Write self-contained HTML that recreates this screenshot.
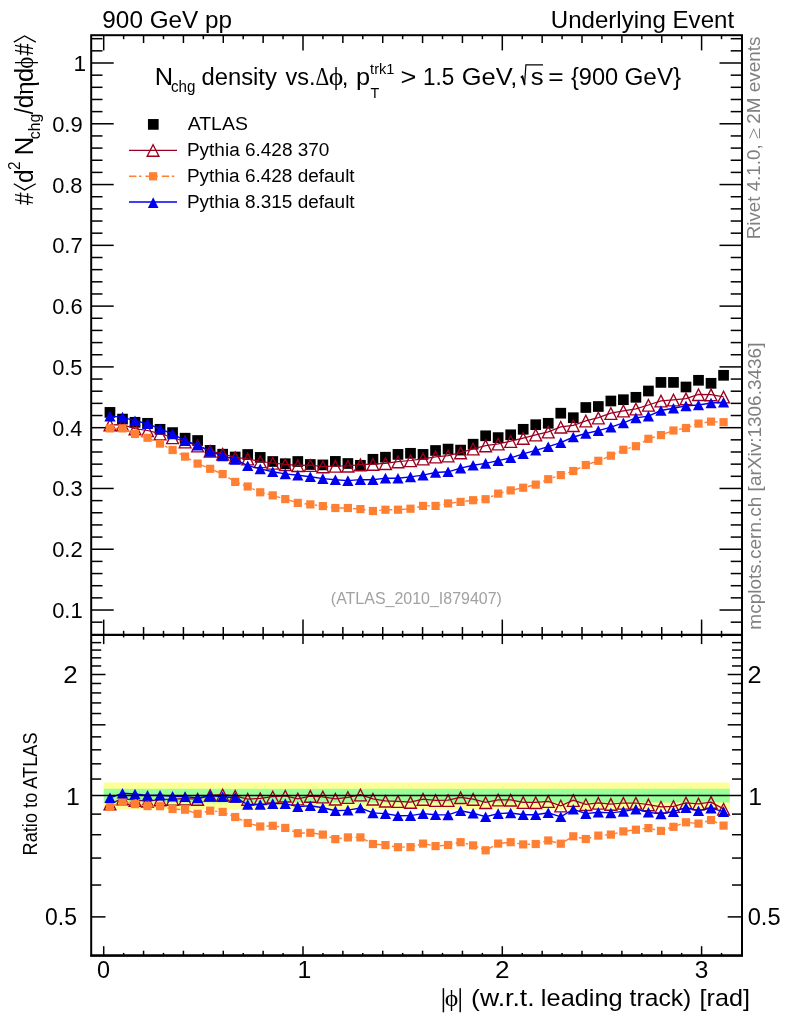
<!DOCTYPE html>
<html><head><meta charset="utf-8"><title>Underlying Event</title>
<style>html,body{margin:0;padding:0;background:#fff}svg{display:block}</style>
</head><body>
<svg width="786" height="1024" viewBox="0 0 786 1024" style="will-change:transform">
<rect width="786" height="1024" fill="#fff"/>
<line x1="103.7" y1="35.2" x2="103.7" y2="50.4" stroke="#000" stroke-width="1.5"/>
<line x1="103.7" y1="619.6" x2="103.7" y2="644.1" stroke="#000" stroke-width="1.5"/>
<line x1="103.7" y1="955.5" x2="103.7" y2="946.2" stroke="#000" stroke-width="1.5"/>
<line x1="123.63" y1="35.2" x2="123.63" y2="39.2" stroke="#000" stroke-width="1.5"/>
<line x1="123.63" y1="630.8" x2="123.63" y2="637.4" stroke="#000" stroke-width="1.5"/>
<line x1="123.63" y1="955.5" x2="123.63" y2="952.9" stroke="#000" stroke-width="1.5"/>
<line x1="143.56" y1="35.2" x2="143.56" y2="43" stroke="#000" stroke-width="1.5"/>
<line x1="143.56" y1="627" x2="143.56" y2="639.6" stroke="#000" stroke-width="1.5"/>
<line x1="143.56" y1="955.5" x2="143.56" y2="950.7" stroke="#000" stroke-width="1.5"/>
<line x1="163.49" y1="35.2" x2="163.49" y2="39.2" stroke="#000" stroke-width="1.5"/>
<line x1="163.49" y1="630.8" x2="163.49" y2="637.4" stroke="#000" stroke-width="1.5"/>
<line x1="163.49" y1="955.5" x2="163.49" y2="952.9" stroke="#000" stroke-width="1.5"/>
<line x1="183.42" y1="35.2" x2="183.42" y2="43" stroke="#000" stroke-width="1.5"/>
<line x1="183.42" y1="627" x2="183.42" y2="639.6" stroke="#000" stroke-width="1.5"/>
<line x1="183.42" y1="955.5" x2="183.42" y2="950.7" stroke="#000" stroke-width="1.5"/>
<line x1="203.35" y1="35.2" x2="203.35" y2="39.2" stroke="#000" stroke-width="1.5"/>
<line x1="203.35" y1="630.8" x2="203.35" y2="637.4" stroke="#000" stroke-width="1.5"/>
<line x1="203.35" y1="955.5" x2="203.35" y2="952.9" stroke="#000" stroke-width="1.5"/>
<line x1="223.28" y1="35.2" x2="223.28" y2="43" stroke="#000" stroke-width="1.5"/>
<line x1="223.28" y1="627" x2="223.28" y2="639.6" stroke="#000" stroke-width="1.5"/>
<line x1="223.28" y1="955.5" x2="223.28" y2="950.7" stroke="#000" stroke-width="1.5"/>
<line x1="243.21" y1="35.2" x2="243.21" y2="39.2" stroke="#000" stroke-width="1.5"/>
<line x1="243.21" y1="630.8" x2="243.21" y2="637.4" stroke="#000" stroke-width="1.5"/>
<line x1="243.21" y1="955.5" x2="243.21" y2="952.9" stroke="#000" stroke-width="1.5"/>
<line x1="263.14" y1="35.2" x2="263.14" y2="43" stroke="#000" stroke-width="1.5"/>
<line x1="263.14" y1="627" x2="263.14" y2="639.6" stroke="#000" stroke-width="1.5"/>
<line x1="263.14" y1="955.5" x2="263.14" y2="950.7" stroke="#000" stroke-width="1.5"/>
<line x1="283.07" y1="35.2" x2="283.07" y2="39.2" stroke="#000" stroke-width="1.5"/>
<line x1="283.07" y1="630.8" x2="283.07" y2="637.4" stroke="#000" stroke-width="1.5"/>
<line x1="283.07" y1="955.5" x2="283.07" y2="952.9" stroke="#000" stroke-width="1.5"/>
<line x1="303" y1="35.2" x2="303" y2="50.4" stroke="#000" stroke-width="1.5"/>
<line x1="303" y1="619.6" x2="303" y2="644.1" stroke="#000" stroke-width="1.5"/>
<line x1="303" y1="955.5" x2="303" y2="946.2" stroke="#000" stroke-width="1.5"/>
<line x1="322.93" y1="35.2" x2="322.93" y2="39.2" stroke="#000" stroke-width="1.5"/>
<line x1="322.93" y1="630.8" x2="322.93" y2="637.4" stroke="#000" stroke-width="1.5"/>
<line x1="322.93" y1="955.5" x2="322.93" y2="952.9" stroke="#000" stroke-width="1.5"/>
<line x1="342.86" y1="35.2" x2="342.86" y2="43" stroke="#000" stroke-width="1.5"/>
<line x1="342.86" y1="627" x2="342.86" y2="639.6" stroke="#000" stroke-width="1.5"/>
<line x1="342.86" y1="955.5" x2="342.86" y2="950.7" stroke="#000" stroke-width="1.5"/>
<line x1="362.79" y1="35.2" x2="362.79" y2="39.2" stroke="#000" stroke-width="1.5"/>
<line x1="362.79" y1="630.8" x2="362.79" y2="637.4" stroke="#000" stroke-width="1.5"/>
<line x1="362.79" y1="955.5" x2="362.79" y2="952.9" stroke="#000" stroke-width="1.5"/>
<line x1="382.72" y1="35.2" x2="382.72" y2="43" stroke="#000" stroke-width="1.5"/>
<line x1="382.72" y1="627" x2="382.72" y2="639.6" stroke="#000" stroke-width="1.5"/>
<line x1="382.72" y1="955.5" x2="382.72" y2="950.7" stroke="#000" stroke-width="1.5"/>
<line x1="402.65" y1="35.2" x2="402.65" y2="39.2" stroke="#000" stroke-width="1.5"/>
<line x1="402.65" y1="630.8" x2="402.65" y2="637.4" stroke="#000" stroke-width="1.5"/>
<line x1="402.65" y1="955.5" x2="402.65" y2="952.9" stroke="#000" stroke-width="1.5"/>
<line x1="422.58" y1="35.2" x2="422.58" y2="43" stroke="#000" stroke-width="1.5"/>
<line x1="422.58" y1="627" x2="422.58" y2="639.6" stroke="#000" stroke-width="1.5"/>
<line x1="422.58" y1="955.5" x2="422.58" y2="950.7" stroke="#000" stroke-width="1.5"/>
<line x1="442.51" y1="35.2" x2="442.51" y2="39.2" stroke="#000" stroke-width="1.5"/>
<line x1="442.51" y1="630.8" x2="442.51" y2="637.4" stroke="#000" stroke-width="1.5"/>
<line x1="442.51" y1="955.5" x2="442.51" y2="952.9" stroke="#000" stroke-width="1.5"/>
<line x1="462.44" y1="35.2" x2="462.44" y2="43" stroke="#000" stroke-width="1.5"/>
<line x1="462.44" y1="627" x2="462.44" y2="639.6" stroke="#000" stroke-width="1.5"/>
<line x1="462.44" y1="955.5" x2="462.44" y2="950.7" stroke="#000" stroke-width="1.5"/>
<line x1="482.37" y1="35.2" x2="482.37" y2="39.2" stroke="#000" stroke-width="1.5"/>
<line x1="482.37" y1="630.8" x2="482.37" y2="637.4" stroke="#000" stroke-width="1.5"/>
<line x1="482.37" y1="955.5" x2="482.37" y2="952.9" stroke="#000" stroke-width="1.5"/>
<line x1="502.3" y1="35.2" x2="502.3" y2="50.4" stroke="#000" stroke-width="1.5"/>
<line x1="502.3" y1="619.6" x2="502.3" y2="644.1" stroke="#000" stroke-width="1.5"/>
<line x1="502.3" y1="955.5" x2="502.3" y2="946.2" stroke="#000" stroke-width="1.5"/>
<line x1="522.23" y1="35.2" x2="522.23" y2="39.2" stroke="#000" stroke-width="1.5"/>
<line x1="522.23" y1="630.8" x2="522.23" y2="637.4" stroke="#000" stroke-width="1.5"/>
<line x1="522.23" y1="955.5" x2="522.23" y2="952.9" stroke="#000" stroke-width="1.5"/>
<line x1="542.16" y1="35.2" x2="542.16" y2="43" stroke="#000" stroke-width="1.5"/>
<line x1="542.16" y1="627" x2="542.16" y2="639.6" stroke="#000" stroke-width="1.5"/>
<line x1="542.16" y1="955.5" x2="542.16" y2="950.7" stroke="#000" stroke-width="1.5"/>
<line x1="562.09" y1="35.2" x2="562.09" y2="39.2" stroke="#000" stroke-width="1.5"/>
<line x1="562.09" y1="630.8" x2="562.09" y2="637.4" stroke="#000" stroke-width="1.5"/>
<line x1="562.09" y1="955.5" x2="562.09" y2="952.9" stroke="#000" stroke-width="1.5"/>
<line x1="582.02" y1="35.2" x2="582.02" y2="43" stroke="#000" stroke-width="1.5"/>
<line x1="582.02" y1="627" x2="582.02" y2="639.6" stroke="#000" stroke-width="1.5"/>
<line x1="582.02" y1="955.5" x2="582.02" y2="950.7" stroke="#000" stroke-width="1.5"/>
<line x1="601.95" y1="35.2" x2="601.95" y2="39.2" stroke="#000" stroke-width="1.5"/>
<line x1="601.95" y1="630.8" x2="601.95" y2="637.4" stroke="#000" stroke-width="1.5"/>
<line x1="601.95" y1="955.5" x2="601.95" y2="952.9" stroke="#000" stroke-width="1.5"/>
<line x1="621.88" y1="35.2" x2="621.88" y2="43" stroke="#000" stroke-width="1.5"/>
<line x1="621.88" y1="627" x2="621.88" y2="639.6" stroke="#000" stroke-width="1.5"/>
<line x1="621.88" y1="955.5" x2="621.88" y2="950.7" stroke="#000" stroke-width="1.5"/>
<line x1="641.81" y1="35.2" x2="641.81" y2="39.2" stroke="#000" stroke-width="1.5"/>
<line x1="641.81" y1="630.8" x2="641.81" y2="637.4" stroke="#000" stroke-width="1.5"/>
<line x1="641.81" y1="955.5" x2="641.81" y2="952.9" stroke="#000" stroke-width="1.5"/>
<line x1="661.74" y1="35.2" x2="661.74" y2="43" stroke="#000" stroke-width="1.5"/>
<line x1="661.74" y1="627" x2="661.74" y2="639.6" stroke="#000" stroke-width="1.5"/>
<line x1="661.74" y1="955.5" x2="661.74" y2="950.7" stroke="#000" stroke-width="1.5"/>
<line x1="681.67" y1="35.2" x2="681.67" y2="39.2" stroke="#000" stroke-width="1.5"/>
<line x1="681.67" y1="630.8" x2="681.67" y2="637.4" stroke="#000" stroke-width="1.5"/>
<line x1="681.67" y1="955.5" x2="681.67" y2="952.9" stroke="#000" stroke-width="1.5"/>
<line x1="701.6" y1="35.2" x2="701.6" y2="50.4" stroke="#000" stroke-width="1.5"/>
<line x1="701.6" y1="619.6" x2="701.6" y2="644.1" stroke="#000" stroke-width="1.5"/>
<line x1="701.6" y1="955.5" x2="701.6" y2="946.2" stroke="#000" stroke-width="1.5"/>
<line x1="721.53" y1="35.2" x2="721.53" y2="39.2" stroke="#000" stroke-width="1.5"/>
<line x1="721.53" y1="630.8" x2="721.53" y2="637.4" stroke="#000" stroke-width="1.5"/>
<line x1="721.53" y1="955.5" x2="721.53" y2="952.9" stroke="#000" stroke-width="1.5"/>
<line x1="91.2" y1="622.18" x2="102.5" y2="622.18" stroke="#000" stroke-width="1.5"/>
<line x1="742" y1="622.18" x2="730.7" y2="622.18" stroke="#000" stroke-width="1.5"/>
<line x1="91.2" y1="610.02" x2="113.7" y2="610.02" stroke="#000" stroke-width="1.5"/>
<line x1="742" y1="610.02" x2="719.5" y2="610.02" stroke="#000" stroke-width="1.5"/>
<line x1="91.2" y1="597.86" x2="102.5" y2="597.86" stroke="#000" stroke-width="1.5"/>
<line x1="742" y1="597.86" x2="730.7" y2="597.86" stroke="#000" stroke-width="1.5"/>
<line x1="91.2" y1="585.71" x2="102.5" y2="585.71" stroke="#000" stroke-width="1.5"/>
<line x1="742" y1="585.71" x2="730.7" y2="585.71" stroke="#000" stroke-width="1.5"/>
<line x1="91.2" y1="573.55" x2="102.5" y2="573.55" stroke="#000" stroke-width="1.5"/>
<line x1="742" y1="573.55" x2="730.7" y2="573.55" stroke="#000" stroke-width="1.5"/>
<line x1="91.2" y1="561.4" x2="102.5" y2="561.4" stroke="#000" stroke-width="1.5"/>
<line x1="742" y1="561.4" x2="730.7" y2="561.4" stroke="#000" stroke-width="1.5"/>
<line x1="91.2" y1="549.24" x2="113.7" y2="549.24" stroke="#000" stroke-width="1.5"/>
<line x1="742" y1="549.24" x2="719.5" y2="549.24" stroke="#000" stroke-width="1.5"/>
<line x1="91.2" y1="537.08" x2="102.5" y2="537.08" stroke="#000" stroke-width="1.5"/>
<line x1="742" y1="537.08" x2="730.7" y2="537.08" stroke="#000" stroke-width="1.5"/>
<line x1="91.2" y1="524.93" x2="102.5" y2="524.93" stroke="#000" stroke-width="1.5"/>
<line x1="742" y1="524.93" x2="730.7" y2="524.93" stroke="#000" stroke-width="1.5"/>
<line x1="91.2" y1="512.77" x2="102.5" y2="512.77" stroke="#000" stroke-width="1.5"/>
<line x1="742" y1="512.77" x2="730.7" y2="512.77" stroke="#000" stroke-width="1.5"/>
<line x1="91.2" y1="500.62" x2="102.5" y2="500.62" stroke="#000" stroke-width="1.5"/>
<line x1="742" y1="500.62" x2="730.7" y2="500.62" stroke="#000" stroke-width="1.5"/>
<line x1="91.2" y1="488.46" x2="113.7" y2="488.46" stroke="#000" stroke-width="1.5"/>
<line x1="742" y1="488.46" x2="719.5" y2="488.46" stroke="#000" stroke-width="1.5"/>
<line x1="91.2" y1="476.3" x2="102.5" y2="476.3" stroke="#000" stroke-width="1.5"/>
<line x1="742" y1="476.3" x2="730.7" y2="476.3" stroke="#000" stroke-width="1.5"/>
<line x1="91.2" y1="464.15" x2="102.5" y2="464.15" stroke="#000" stroke-width="1.5"/>
<line x1="742" y1="464.15" x2="730.7" y2="464.15" stroke="#000" stroke-width="1.5"/>
<line x1="91.2" y1="451.99" x2="102.5" y2="451.99" stroke="#000" stroke-width="1.5"/>
<line x1="742" y1="451.99" x2="730.7" y2="451.99" stroke="#000" stroke-width="1.5"/>
<line x1="91.2" y1="439.84" x2="102.5" y2="439.84" stroke="#000" stroke-width="1.5"/>
<line x1="742" y1="439.84" x2="730.7" y2="439.84" stroke="#000" stroke-width="1.5"/>
<line x1="91.2" y1="427.68" x2="113.7" y2="427.68" stroke="#000" stroke-width="1.5"/>
<line x1="742" y1="427.68" x2="719.5" y2="427.68" stroke="#000" stroke-width="1.5"/>
<line x1="91.2" y1="415.52" x2="102.5" y2="415.52" stroke="#000" stroke-width="1.5"/>
<line x1="742" y1="415.52" x2="730.7" y2="415.52" stroke="#000" stroke-width="1.5"/>
<line x1="91.2" y1="403.37" x2="102.5" y2="403.37" stroke="#000" stroke-width="1.5"/>
<line x1="742" y1="403.37" x2="730.7" y2="403.37" stroke="#000" stroke-width="1.5"/>
<line x1="91.2" y1="391.21" x2="102.5" y2="391.21" stroke="#000" stroke-width="1.5"/>
<line x1="742" y1="391.21" x2="730.7" y2="391.21" stroke="#000" stroke-width="1.5"/>
<line x1="91.2" y1="379.06" x2="102.5" y2="379.06" stroke="#000" stroke-width="1.5"/>
<line x1="742" y1="379.06" x2="730.7" y2="379.06" stroke="#000" stroke-width="1.5"/>
<line x1="91.2" y1="366.9" x2="113.7" y2="366.9" stroke="#000" stroke-width="1.5"/>
<line x1="742" y1="366.9" x2="719.5" y2="366.9" stroke="#000" stroke-width="1.5"/>
<line x1="91.2" y1="354.74" x2="102.5" y2="354.74" stroke="#000" stroke-width="1.5"/>
<line x1="742" y1="354.74" x2="730.7" y2="354.74" stroke="#000" stroke-width="1.5"/>
<line x1="91.2" y1="342.59" x2="102.5" y2="342.59" stroke="#000" stroke-width="1.5"/>
<line x1="742" y1="342.59" x2="730.7" y2="342.59" stroke="#000" stroke-width="1.5"/>
<line x1="91.2" y1="330.43" x2="102.5" y2="330.43" stroke="#000" stroke-width="1.5"/>
<line x1="742" y1="330.43" x2="730.7" y2="330.43" stroke="#000" stroke-width="1.5"/>
<line x1="91.2" y1="318.28" x2="102.5" y2="318.28" stroke="#000" stroke-width="1.5"/>
<line x1="742" y1="318.28" x2="730.7" y2="318.28" stroke="#000" stroke-width="1.5"/>
<line x1="91.2" y1="306.12" x2="113.7" y2="306.12" stroke="#000" stroke-width="1.5"/>
<line x1="742" y1="306.12" x2="719.5" y2="306.12" stroke="#000" stroke-width="1.5"/>
<line x1="91.2" y1="293.96" x2="102.5" y2="293.96" stroke="#000" stroke-width="1.5"/>
<line x1="742" y1="293.96" x2="730.7" y2="293.96" stroke="#000" stroke-width="1.5"/>
<line x1="91.2" y1="281.81" x2="102.5" y2="281.81" stroke="#000" stroke-width="1.5"/>
<line x1="742" y1="281.81" x2="730.7" y2="281.81" stroke="#000" stroke-width="1.5"/>
<line x1="91.2" y1="269.65" x2="102.5" y2="269.65" stroke="#000" stroke-width="1.5"/>
<line x1="742" y1="269.65" x2="730.7" y2="269.65" stroke="#000" stroke-width="1.5"/>
<line x1="91.2" y1="257.5" x2="102.5" y2="257.5" stroke="#000" stroke-width="1.5"/>
<line x1="742" y1="257.5" x2="730.7" y2="257.5" stroke="#000" stroke-width="1.5"/>
<line x1="91.2" y1="245.34" x2="113.7" y2="245.34" stroke="#000" stroke-width="1.5"/>
<line x1="742" y1="245.34" x2="719.5" y2="245.34" stroke="#000" stroke-width="1.5"/>
<line x1="91.2" y1="233.18" x2="102.5" y2="233.18" stroke="#000" stroke-width="1.5"/>
<line x1="742" y1="233.18" x2="730.7" y2="233.18" stroke="#000" stroke-width="1.5"/>
<line x1="91.2" y1="221.03" x2="102.5" y2="221.03" stroke="#000" stroke-width="1.5"/>
<line x1="742" y1="221.03" x2="730.7" y2="221.03" stroke="#000" stroke-width="1.5"/>
<line x1="91.2" y1="208.87" x2="102.5" y2="208.87" stroke="#000" stroke-width="1.5"/>
<line x1="742" y1="208.87" x2="730.7" y2="208.87" stroke="#000" stroke-width="1.5"/>
<line x1="91.2" y1="196.72" x2="102.5" y2="196.72" stroke="#000" stroke-width="1.5"/>
<line x1="742" y1="196.72" x2="730.7" y2="196.72" stroke="#000" stroke-width="1.5"/>
<line x1="91.2" y1="184.56" x2="113.7" y2="184.56" stroke="#000" stroke-width="1.5"/>
<line x1="742" y1="184.56" x2="719.5" y2="184.56" stroke="#000" stroke-width="1.5"/>
<line x1="91.2" y1="172.4" x2="102.5" y2="172.4" stroke="#000" stroke-width="1.5"/>
<line x1="742" y1="172.4" x2="730.7" y2="172.4" stroke="#000" stroke-width="1.5"/>
<line x1="91.2" y1="160.25" x2="102.5" y2="160.25" stroke="#000" stroke-width="1.5"/>
<line x1="742" y1="160.25" x2="730.7" y2="160.25" stroke="#000" stroke-width="1.5"/>
<line x1="91.2" y1="148.09" x2="102.5" y2="148.09" stroke="#000" stroke-width="1.5"/>
<line x1="742" y1="148.09" x2="730.7" y2="148.09" stroke="#000" stroke-width="1.5"/>
<line x1="91.2" y1="135.94" x2="102.5" y2="135.94" stroke="#000" stroke-width="1.5"/>
<line x1="742" y1="135.94" x2="730.7" y2="135.94" stroke="#000" stroke-width="1.5"/>
<line x1="91.2" y1="123.78" x2="113.7" y2="123.78" stroke="#000" stroke-width="1.5"/>
<line x1="742" y1="123.78" x2="719.5" y2="123.78" stroke="#000" stroke-width="1.5"/>
<line x1="91.2" y1="111.62" x2="102.5" y2="111.62" stroke="#000" stroke-width="1.5"/>
<line x1="742" y1="111.62" x2="730.7" y2="111.62" stroke="#000" stroke-width="1.5"/>
<line x1="91.2" y1="99.47" x2="102.5" y2="99.47" stroke="#000" stroke-width="1.5"/>
<line x1="742" y1="99.47" x2="730.7" y2="99.47" stroke="#000" stroke-width="1.5"/>
<line x1="91.2" y1="87.31" x2="102.5" y2="87.31" stroke="#000" stroke-width="1.5"/>
<line x1="742" y1="87.31" x2="730.7" y2="87.31" stroke="#000" stroke-width="1.5"/>
<line x1="91.2" y1="75.16" x2="102.5" y2="75.16" stroke="#000" stroke-width="1.5"/>
<line x1="742" y1="75.16" x2="730.7" y2="75.16" stroke="#000" stroke-width="1.5"/>
<line x1="91.2" y1="63" x2="113.7" y2="63" stroke="#000" stroke-width="1.5"/>
<line x1="742" y1="63" x2="719.5" y2="63" stroke="#000" stroke-width="1.5"/>
<line x1="91.2" y1="50.84" x2="102.5" y2="50.84" stroke="#000" stroke-width="1.5"/>
<line x1="742" y1="50.84" x2="730.7" y2="50.84" stroke="#000" stroke-width="1.5"/>
<line x1="91.2" y1="38.69" x2="102.5" y2="38.69" stroke="#000" stroke-width="1.5"/>
<line x1="742" y1="38.69" x2="730.7" y2="38.69" stroke="#000" stroke-width="1.5"/>
<line x1="91.2" y1="916.89" x2="105.5" y2="916.89" stroke="#000" stroke-width="1.5"/>
<line x1="742" y1="916.89" x2="727.7" y2="916.89" stroke="#000" stroke-width="1.5"/>
<line x1="91.2" y1="885.02" x2="101.2" y2="885.02" stroke="#000" stroke-width="1.5"/>
<line x1="742" y1="885.02" x2="732" y2="885.02" stroke="#000" stroke-width="1.5"/>
<line x1="91.2" y1="858.06" x2="101.2" y2="858.06" stroke="#000" stroke-width="1.5"/>
<line x1="742" y1="858.06" x2="732" y2="858.06" stroke="#000" stroke-width="1.5"/>
<line x1="91.2" y1="834.72" x2="101.2" y2="834.72" stroke="#000" stroke-width="1.5"/>
<line x1="742" y1="834.72" x2="732" y2="834.72" stroke="#000" stroke-width="1.5"/>
<line x1="91.2" y1="814.12" x2="101.2" y2="814.12" stroke="#000" stroke-width="1.5"/>
<line x1="742" y1="814.12" x2="732" y2="814.12" stroke="#000" stroke-width="1.5"/>
<line x1="91.2" y1="779.04" x2="101.2" y2="779.04" stroke="#000" stroke-width="1.5"/>
<line x1="742" y1="779.04" x2="732" y2="779.04" stroke="#000" stroke-width="1.5"/>
<line x1="91.2" y1="763.82" x2="101.2" y2="763.82" stroke="#000" stroke-width="1.5"/>
<line x1="742" y1="763.82" x2="732" y2="763.82" stroke="#000" stroke-width="1.5"/>
<line x1="91.2" y1="749.83" x2="101.2" y2="749.83" stroke="#000" stroke-width="1.5"/>
<line x1="742" y1="749.83" x2="732" y2="749.83" stroke="#000" stroke-width="1.5"/>
<line x1="91.2" y1="736.87" x2="101.2" y2="736.87" stroke="#000" stroke-width="1.5"/>
<line x1="742" y1="736.87" x2="732" y2="736.87" stroke="#000" stroke-width="1.5"/>
<line x1="91.2" y1="724.81" x2="105.5" y2="724.81" stroke="#000" stroke-width="1.5"/>
<line x1="742" y1="724.81" x2="727.7" y2="724.81" stroke="#000" stroke-width="1.5"/>
<line x1="91.2" y1="713.52" x2="101.2" y2="713.52" stroke="#000" stroke-width="1.5"/>
<line x1="742" y1="713.52" x2="732" y2="713.52" stroke="#000" stroke-width="1.5"/>
<line x1="91.2" y1="702.92" x2="101.2" y2="702.92" stroke="#000" stroke-width="1.5"/>
<line x1="742" y1="702.92" x2="732" y2="702.92" stroke="#000" stroke-width="1.5"/>
<line x1="91.2" y1="692.93" x2="101.2" y2="692.93" stroke="#000" stroke-width="1.5"/>
<line x1="742" y1="692.93" x2="732" y2="692.93" stroke="#000" stroke-width="1.5"/>
<line x1="91.2" y1="683.47" x2="101.2" y2="683.47" stroke="#000" stroke-width="1.5"/>
<line x1="742" y1="683.47" x2="732" y2="683.47" stroke="#000" stroke-width="1.5"/>
<line x1="91.2" y1="674.51" x2="105.5" y2="674.51" stroke="#000" stroke-width="1.5"/>
<line x1="742" y1="674.51" x2="727.7" y2="674.51" stroke="#000" stroke-width="1.5"/>
<line x1="91.2" y1="665.97" x2="101.2" y2="665.97" stroke="#000" stroke-width="1.5"/>
<line x1="742" y1="665.97" x2="732" y2="665.97" stroke="#000" stroke-width="1.5"/>
<line x1="91.2" y1="657.84" x2="101.2" y2="657.84" stroke="#000" stroke-width="1.5"/>
<line x1="742" y1="657.84" x2="732" y2="657.84" stroke="#000" stroke-width="1.5"/>
<line x1="91.2" y1="650.07" x2="101.2" y2="650.07" stroke="#000" stroke-width="1.5"/>
<line x1="742" y1="650.07" x2="732" y2="650.07" stroke="#000" stroke-width="1.5"/>
<line x1="91.2" y1="642.63" x2="101.2" y2="642.63" stroke="#000" stroke-width="1.5"/>
<line x1="742" y1="642.63" x2="732" y2="642.63" stroke="#000" stroke-width="1.5"/>
<rect x="103.7" y="782.5" width="626.12" height="26.8" fill="#ffff99"/>
<rect x="103.7" y="788.8" width="626.12" height="13.7" fill="#99ff99"/>
<rect x="104.61" y="407.05" width="10.7" height="10.7" fill="#000"/>
<rect x="117.13" y="413.75" width="10.7" height="10.7" fill="#000"/>
<rect x="129.66" y="416.95" width="10.7" height="10.7" fill="#000"/>
<rect x="142.18" y="417.95" width="10.7" height="10.7" fill="#000"/>
<rect x="154.7" y="423.95" width="10.7" height="10.7" fill="#000"/>
<rect x="167.22" y="427.25" width="10.7" height="10.7" fill="#000"/>
<rect x="179.75" y="432.85" width="10.7" height="10.7" fill="#000"/>
<rect x="192.27" y="435.15" width="10.7" height="10.7" fill="#000"/>
<rect x="204.79" y="445.05" width="10.7" height="10.7" fill="#000"/>
<rect x="217.31" y="448.85" width="10.7" height="10.7" fill="#000"/>
<rect x="229.84" y="451.65" width="10.7" height="10.7" fill="#000"/>
<rect x="242.36" y="449.15" width="10.7" height="10.7" fill="#000"/>
<rect x="254.88" y="452.05" width="10.7" height="10.7" fill="#000"/>
<rect x="267.4" y="456.15" width="10.7" height="10.7" fill="#000"/>
<rect x="279.92" y="458.35" width="10.7" height="10.7" fill="#000"/>
<rect x="292.45" y="456.15" width="10.7" height="10.7" fill="#000"/>
<rect x="304.97" y="459.15" width="10.7" height="10.7" fill="#000"/>
<rect x="317.49" y="459.55" width="10.7" height="10.7" fill="#000"/>
<rect x="330.01" y="456.05" width="10.7" height="10.7" fill="#000"/>
<rect x="342.54" y="458.15" width="10.7" height="10.7" fill="#000"/>
<rect x="355.06" y="459.95" width="10.7" height="10.7" fill="#000"/>
<rect x="367.58" y="453.95" width="10.7" height="10.7" fill="#000"/>
<rect x="380.1" y="451.85" width="10.7" height="10.7" fill="#000"/>
<rect x="392.63" y="449.05" width="10.7" height="10.7" fill="#000"/>
<rect x="405.15" y="447.95" width="10.7" height="10.7" fill="#000"/>
<rect x="417.67" y="449.05" width="10.7" height="10.7" fill="#000"/>
<rect x="430.19" y="445.15" width="10.7" height="10.7" fill="#000"/>
<rect x="442.72" y="443.75" width="10.7" height="10.7" fill="#000"/>
<rect x="455.24" y="444.75" width="10.7" height="10.7" fill="#000"/>
<rect x="467.76" y="438.85" width="10.7" height="10.7" fill="#000"/>
<rect x="480.28" y="430.45" width="10.7" height="10.7" fill="#000"/>
<rect x="492.81" y="432.25" width="10.7" height="10.7" fill="#000"/>
<rect x="505.33" y="429.45" width="10.7" height="10.7" fill="#000"/>
<rect x="517.85" y="423.95" width="10.7" height="10.7" fill="#000"/>
<rect x="530.37" y="419.35" width="10.7" height="10.7" fill="#000"/>
<rect x="542.89" y="417.95" width="10.7" height="10.7" fill="#000"/>
<rect x="555.42" y="407.85" width="10.7" height="10.7" fill="#000"/>
<rect x="567.94" y="412.35" width="10.7" height="10.7" fill="#000"/>
<rect x="580.46" y="402.15" width="10.7" height="10.7" fill="#000"/>
<rect x="592.98" y="401.15" width="10.7" height="10.7" fill="#000"/>
<rect x="605.51" y="395.65" width="10.7" height="10.7" fill="#000"/>
<rect x="618.03" y="394.35" width="10.7" height="10.7" fill="#000"/>
<rect x="630.55" y="391.95" width="10.7" height="10.7" fill="#000"/>
<rect x="643.07" y="385.65" width="10.7" height="10.7" fill="#000"/>
<rect x="655.6" y="377.05" width="10.7" height="10.7" fill="#000"/>
<rect x="668.12" y="377.05" width="10.7" height="10.7" fill="#000"/>
<rect x="680.64" y="381.65" width="10.7" height="10.7" fill="#000"/>
<rect x="693.16" y="374.95" width="10.7" height="10.7" fill="#000"/>
<rect x="705.69" y="377.95" width="10.7" height="10.7" fill="#000"/>
<rect x="718.21" y="369.95" width="10.7" height="10.7" fill="#000"/>
<polyline points="109.96,424.8 122.48,424.7 135.01,428.6 147.53,430.5 160.05,433.6 172.57,437.5 185.1,441.7 197.62,445.7 210.14,450.9 222.66,453.9 235.19,457.4 247.71,458.8 260.23,461.5 272.75,463 285.27,464.4 297.8,465.4 310.32,465.2 322.84,466.6 335.36,466 347.89,465.9 360.41,464.6 372.93,464.1 385.45,463.4 397.98,461.6 410.5,460.5 423.02,458.8 435.54,456.8 448.07,455.7 460.59,452.6 473.11,448.8 485.63,445.6 498.16,443.8 510.68,441.2 523.2,438.1 535.72,434.8 548.24,431.8 560.77,426.9 573.29,425.4 585.81,420.8 598.33,417.7 610.86,413.2 623.38,410.8 635.9,408.8 648.42,405 660.95,400.8 673.47,399.8 685.99,398.6 698.51,394.4 711.04,394.6 723.56,396.8" fill="none" stroke="#9c0020" stroke-width="1.25"/>
<path d="M104.06 430.9L115.86 430.9L109.96 419.3Z" fill="none" stroke="#9c0020" stroke-width="1.35" stroke-linejoin="miter"/>
<path d="M116.58 430.8L128.38 430.8L122.48 419.2Z" fill="none" stroke="#9c0020" stroke-width="1.35" stroke-linejoin="miter"/>
<path d="M129.11 434.7L140.91 434.7L135.01 423.1Z" fill="none" stroke="#9c0020" stroke-width="1.35" stroke-linejoin="miter"/>
<path d="M141.63 436.6L153.43 436.6L147.53 425Z" fill="none" stroke="#9c0020" stroke-width="1.35" stroke-linejoin="miter"/>
<path d="M154.15 439.7L165.95 439.7L160.05 428.1Z" fill="none" stroke="#9c0020" stroke-width="1.35" stroke-linejoin="miter"/>
<path d="M166.67 443.6L178.47 443.6L172.57 432Z" fill="none" stroke="#9c0020" stroke-width="1.35" stroke-linejoin="miter"/>
<path d="M179.2 447.8L191 447.8L185.1 436.2Z" fill="none" stroke="#9c0020" stroke-width="1.35" stroke-linejoin="miter"/>
<path d="M191.72 451.8L203.52 451.8L197.62 440.2Z" fill="none" stroke="#9c0020" stroke-width="1.35" stroke-linejoin="miter"/>
<path d="M204.24 457L216.04 457L210.14 445.4Z" fill="none" stroke="#9c0020" stroke-width="1.35" stroke-linejoin="miter"/>
<path d="M216.76 460L228.56 460L222.66 448.4Z" fill="none" stroke="#9c0020" stroke-width="1.35" stroke-linejoin="miter"/>
<path d="M229.29 463.5L241.09 463.5L235.19 451.9Z" fill="none" stroke="#9c0020" stroke-width="1.35" stroke-linejoin="miter"/>
<path d="M241.81 464.9L253.61 464.9L247.71 453.3Z" fill="none" stroke="#9c0020" stroke-width="1.35" stroke-linejoin="miter"/>
<path d="M254.33 467.6L266.13 467.6L260.23 456Z" fill="none" stroke="#9c0020" stroke-width="1.35" stroke-linejoin="miter"/>
<path d="M266.85 469.1L278.65 469.1L272.75 457.5Z" fill="none" stroke="#9c0020" stroke-width="1.35" stroke-linejoin="miter"/>
<path d="M279.37 470.5L291.17 470.5L285.27 458.9Z" fill="none" stroke="#9c0020" stroke-width="1.35" stroke-linejoin="miter"/>
<path d="M291.9 471.5L303.7 471.5L297.8 459.9Z" fill="none" stroke="#9c0020" stroke-width="1.35" stroke-linejoin="miter"/>
<path d="M304.42 471.3L316.22 471.3L310.32 459.7Z" fill="none" stroke="#9c0020" stroke-width="1.35" stroke-linejoin="miter"/>
<path d="M316.94 472.7L328.74 472.7L322.84 461.1Z" fill="none" stroke="#9c0020" stroke-width="1.35" stroke-linejoin="miter"/>
<path d="M329.46 472.1L341.26 472.1L335.36 460.5Z" fill="none" stroke="#9c0020" stroke-width="1.35" stroke-linejoin="miter"/>
<path d="M341.99 472L353.79 472L347.89 460.4Z" fill="none" stroke="#9c0020" stroke-width="1.35" stroke-linejoin="miter"/>
<path d="M354.51 470.7L366.31 470.7L360.41 459.1Z" fill="none" stroke="#9c0020" stroke-width="1.35" stroke-linejoin="miter"/>
<path d="M367.03 470.2L378.83 470.2L372.93 458.6Z" fill="none" stroke="#9c0020" stroke-width="1.35" stroke-linejoin="miter"/>
<path d="M379.55 469.5L391.35 469.5L385.45 457.9Z" fill="none" stroke="#9c0020" stroke-width="1.35" stroke-linejoin="miter"/>
<path d="M392.08 467.7L403.88 467.7L397.98 456.1Z" fill="none" stroke="#9c0020" stroke-width="1.35" stroke-linejoin="miter"/>
<path d="M404.6 466.6L416.4 466.6L410.5 455Z" fill="none" stroke="#9c0020" stroke-width="1.35" stroke-linejoin="miter"/>
<path d="M417.12 464.9L428.92 464.9L423.02 453.3Z" fill="none" stroke="#9c0020" stroke-width="1.35" stroke-linejoin="miter"/>
<path d="M429.64 462.9L441.44 462.9L435.54 451.3Z" fill="none" stroke="#9c0020" stroke-width="1.35" stroke-linejoin="miter"/>
<path d="M442.17 461.8L453.97 461.8L448.07 450.2Z" fill="none" stroke="#9c0020" stroke-width="1.35" stroke-linejoin="miter"/>
<path d="M454.69 458.7L466.49 458.7L460.59 447.1Z" fill="none" stroke="#9c0020" stroke-width="1.35" stroke-linejoin="miter"/>
<path d="M467.21 454.9L479.01 454.9L473.11 443.3Z" fill="none" stroke="#9c0020" stroke-width="1.35" stroke-linejoin="miter"/>
<path d="M479.73 451.7L491.53 451.7L485.63 440.1Z" fill="none" stroke="#9c0020" stroke-width="1.35" stroke-linejoin="miter"/>
<path d="M492.26 449.9L504.06 449.9L498.16 438.3Z" fill="none" stroke="#9c0020" stroke-width="1.35" stroke-linejoin="miter"/>
<path d="M504.78 447.3L516.58 447.3L510.68 435.7Z" fill="none" stroke="#9c0020" stroke-width="1.35" stroke-linejoin="miter"/>
<path d="M517.3 444.2L529.1 444.2L523.2 432.6Z" fill="none" stroke="#9c0020" stroke-width="1.35" stroke-linejoin="miter"/>
<path d="M529.82 440.9L541.62 440.9L535.72 429.3Z" fill="none" stroke="#9c0020" stroke-width="1.35" stroke-linejoin="miter"/>
<path d="M542.34 437.9L554.14 437.9L548.24 426.3Z" fill="none" stroke="#9c0020" stroke-width="1.35" stroke-linejoin="miter"/>
<path d="M554.87 433L566.67 433L560.77 421.4Z" fill="none" stroke="#9c0020" stroke-width="1.35" stroke-linejoin="miter"/>
<path d="M567.39 431.5L579.19 431.5L573.29 419.9Z" fill="none" stroke="#9c0020" stroke-width="1.35" stroke-linejoin="miter"/>
<path d="M579.91 426.9L591.71 426.9L585.81 415.3Z" fill="none" stroke="#9c0020" stroke-width="1.35" stroke-linejoin="miter"/>
<path d="M592.43 423.8L604.23 423.8L598.33 412.2Z" fill="none" stroke="#9c0020" stroke-width="1.35" stroke-linejoin="miter"/>
<path d="M604.96 419.3L616.76 419.3L610.86 407.7Z" fill="none" stroke="#9c0020" stroke-width="1.35" stroke-linejoin="miter"/>
<path d="M617.48 416.9L629.28 416.9L623.38 405.3Z" fill="none" stroke="#9c0020" stroke-width="1.35" stroke-linejoin="miter"/>
<path d="M630 414.9L641.8 414.9L635.9 403.3Z" fill="none" stroke="#9c0020" stroke-width="1.35" stroke-linejoin="miter"/>
<path d="M642.52 411.1L654.32 411.1L648.42 399.5Z" fill="none" stroke="#9c0020" stroke-width="1.35" stroke-linejoin="miter"/>
<path d="M655.05 406.9L666.85 406.9L660.95 395.3Z" fill="none" stroke="#9c0020" stroke-width="1.35" stroke-linejoin="miter"/>
<path d="M667.57 405.9L679.37 405.9L673.47 394.3Z" fill="none" stroke="#9c0020" stroke-width="1.35" stroke-linejoin="miter"/>
<path d="M680.09 404.7L691.89 404.7L685.99 393.1Z" fill="none" stroke="#9c0020" stroke-width="1.35" stroke-linejoin="miter"/>
<path d="M692.61 400.5L704.41 400.5L698.51 388.9Z" fill="none" stroke="#9c0020" stroke-width="1.35" stroke-linejoin="miter"/>
<path d="M705.14 400.7L716.94 400.7L711.04 389.1Z" fill="none" stroke="#9c0020" stroke-width="1.35" stroke-linejoin="miter"/>
<path d="M717.66 402.9L729.46 402.9L723.56 391.3Z" fill="none" stroke="#9c0020" stroke-width="1.35" stroke-linejoin="miter"/>
<polyline points="109.96,428.4 122.48,428.4 135.01,434 147.53,437.8 160.05,443.6 172.57,450 185.1,456.6 197.62,463.6 210.14,468.8 222.66,474.1 235.19,481.9 247.71,486.5 260.23,492.3 272.75,495.4 285.27,499.1 297.8,502.9 310.32,504.4 322.84,506.1 335.36,508 347.89,508 360.41,509.1 372.93,511 385.45,509.7 397.98,509.7 410.5,508.7 423.02,505.9 435.54,505.9 448.07,503.4 460.59,501.9 473.11,500.2 485.63,499.2 498.16,493.6 510.68,490.4 523.2,487.7 535.72,484.6 548.24,479.2 560.77,475.1 573.29,471 585.81,465 598.33,460.8 610.86,455.7 623.38,449.8 635.9,446.2 648.42,438.8 660.95,435.1 673.47,430.5 685.99,428 698.51,423.6 711.04,421.6 723.56,422.2" fill="none" stroke="#ff8033" stroke-width="1.4" stroke-dasharray="7.3 3 2.6 3.3"/>
<rect x="105.86" y="424.3" width="8.2" height="8.2" fill="#ff8033"/>
<rect x="118.38" y="424.3" width="8.2" height="8.2" fill="#ff8033"/>
<rect x="130.91" y="429.9" width="8.2" height="8.2" fill="#ff8033"/>
<rect x="143.43" y="433.7" width="8.2" height="8.2" fill="#ff8033"/>
<rect x="155.95" y="439.5" width="8.2" height="8.2" fill="#ff8033"/>
<rect x="168.47" y="445.9" width="8.2" height="8.2" fill="#ff8033"/>
<rect x="181" y="452.5" width="8.2" height="8.2" fill="#ff8033"/>
<rect x="193.52" y="459.5" width="8.2" height="8.2" fill="#ff8033"/>
<rect x="206.04" y="464.7" width="8.2" height="8.2" fill="#ff8033"/>
<rect x="218.56" y="470" width="8.2" height="8.2" fill="#ff8033"/>
<rect x="231.09" y="477.8" width="8.2" height="8.2" fill="#ff8033"/>
<rect x="243.61" y="482.4" width="8.2" height="8.2" fill="#ff8033"/>
<rect x="256.13" y="488.2" width="8.2" height="8.2" fill="#ff8033"/>
<rect x="268.65" y="491.3" width="8.2" height="8.2" fill="#ff8033"/>
<rect x="281.17" y="495" width="8.2" height="8.2" fill="#ff8033"/>
<rect x="293.7" y="498.8" width="8.2" height="8.2" fill="#ff8033"/>
<rect x="306.22" y="500.3" width="8.2" height="8.2" fill="#ff8033"/>
<rect x="318.74" y="502" width="8.2" height="8.2" fill="#ff8033"/>
<rect x="331.26" y="503.9" width="8.2" height="8.2" fill="#ff8033"/>
<rect x="343.79" y="503.9" width="8.2" height="8.2" fill="#ff8033"/>
<rect x="356.31" y="505" width="8.2" height="8.2" fill="#ff8033"/>
<rect x="368.83" y="506.9" width="8.2" height="8.2" fill="#ff8033"/>
<rect x="381.35" y="505.6" width="8.2" height="8.2" fill="#ff8033"/>
<rect x="393.88" y="505.6" width="8.2" height="8.2" fill="#ff8033"/>
<rect x="406.4" y="504.6" width="8.2" height="8.2" fill="#ff8033"/>
<rect x="418.92" y="501.8" width="8.2" height="8.2" fill="#ff8033"/>
<rect x="431.44" y="501.8" width="8.2" height="8.2" fill="#ff8033"/>
<rect x="443.97" y="499.3" width="8.2" height="8.2" fill="#ff8033"/>
<rect x="456.49" y="497.8" width="8.2" height="8.2" fill="#ff8033"/>
<rect x="469.01" y="496.1" width="8.2" height="8.2" fill="#ff8033"/>
<rect x="481.53" y="495.1" width="8.2" height="8.2" fill="#ff8033"/>
<rect x="494.06" y="489.5" width="8.2" height="8.2" fill="#ff8033"/>
<rect x="506.58" y="486.3" width="8.2" height="8.2" fill="#ff8033"/>
<rect x="519.1" y="483.6" width="8.2" height="8.2" fill="#ff8033"/>
<rect x="531.62" y="480.5" width="8.2" height="8.2" fill="#ff8033"/>
<rect x="544.14" y="475.1" width="8.2" height="8.2" fill="#ff8033"/>
<rect x="556.67" y="471" width="8.2" height="8.2" fill="#ff8033"/>
<rect x="569.19" y="466.9" width="8.2" height="8.2" fill="#ff8033"/>
<rect x="581.71" y="460.9" width="8.2" height="8.2" fill="#ff8033"/>
<rect x="594.23" y="456.7" width="8.2" height="8.2" fill="#ff8033"/>
<rect x="606.76" y="451.6" width="8.2" height="8.2" fill="#ff8033"/>
<rect x="619.28" y="445.7" width="8.2" height="8.2" fill="#ff8033"/>
<rect x="631.8" y="442.1" width="8.2" height="8.2" fill="#ff8033"/>
<rect x="644.32" y="434.7" width="8.2" height="8.2" fill="#ff8033"/>
<rect x="656.85" y="431" width="8.2" height="8.2" fill="#ff8033"/>
<rect x="669.37" y="426.4" width="8.2" height="8.2" fill="#ff8033"/>
<rect x="681.89" y="423.9" width="8.2" height="8.2" fill="#ff8033"/>
<rect x="694.41" y="419.5" width="8.2" height="8.2" fill="#ff8033"/>
<rect x="706.94" y="417.5" width="8.2" height="8.2" fill="#ff8033"/>
<rect x="719.46" y="418.1" width="8.2" height="8.2" fill="#ff8033"/>
<polyline points="109.96,416.1 122.48,417.1 135.01,420.8 147.53,423.6 160.05,429 172.57,433.9 185.1,440.6 197.62,445.1 210.14,451.4 222.66,455.9 235.19,459.4 247.71,465.7 260.23,468.9 272.75,471.8 285.27,473.9 297.8,475.3 310.32,476.8 322.84,478.6 335.36,479.7 347.89,480.6 360.41,479.6 372.93,479.7 385.45,478.1 397.98,478.2 410.5,476.9 423.02,475.1 435.54,472.5 448.07,471.8 460.59,468.1 473.11,465.3 485.63,463.4 498.16,460.6 510.68,457.8 523.2,453.8 535.72,450.3 548.24,446.7 560.77,442.6 573.29,437 585.81,433.5 598.33,430.6 610.86,427.1 623.38,422.9 635.9,417.9 648.42,416.1 660.95,410.5 673.47,408.2 685.99,405.9 698.51,405 711.04,403 723.56,402.2" fill="none" stroke="#0000ee" stroke-width="1.4"/>
<path d="M104.36 421.4L115.56 421.4L109.96 410.8Z" fill="#0000ee"/>
<path d="M116.88 422.4L128.08 422.4L122.48 411.8Z" fill="#0000ee"/>
<path d="M129.41 426.1L140.61 426.1L135.01 415.5Z" fill="#0000ee"/>
<path d="M141.93 428.9L153.13 428.9L147.53 418.3Z" fill="#0000ee"/>
<path d="M154.45 434.3L165.65 434.3L160.05 423.7Z" fill="#0000ee"/>
<path d="M166.97 439.2L178.17 439.2L172.57 428.6Z" fill="#0000ee"/>
<path d="M179.5 445.9L190.7 445.9L185.1 435.3Z" fill="#0000ee"/>
<path d="M192.02 450.4L203.22 450.4L197.62 439.8Z" fill="#0000ee"/>
<path d="M204.54 456.7L215.74 456.7L210.14 446.1Z" fill="#0000ee"/>
<path d="M217.06 461.2L228.26 461.2L222.66 450.6Z" fill="#0000ee"/>
<path d="M229.59 464.7L240.79 464.7L235.19 454.1Z" fill="#0000ee"/>
<path d="M242.11 471L253.31 471L247.71 460.4Z" fill="#0000ee"/>
<path d="M254.63 474.2L265.83 474.2L260.23 463.6Z" fill="#0000ee"/>
<path d="M267.15 477.1L278.35 477.1L272.75 466.5Z" fill="#0000ee"/>
<path d="M279.67 479.2L290.87 479.2L285.27 468.6Z" fill="#0000ee"/>
<path d="M292.2 480.6L303.4 480.6L297.8 470Z" fill="#0000ee"/>
<path d="M304.72 482.1L315.92 482.1L310.32 471.5Z" fill="#0000ee"/>
<path d="M317.24 483.9L328.44 483.9L322.84 473.3Z" fill="#0000ee"/>
<path d="M329.76 485L340.96 485L335.36 474.4Z" fill="#0000ee"/>
<path d="M342.29 485.9L353.49 485.9L347.89 475.3Z" fill="#0000ee"/>
<path d="M354.81 484.9L366.01 484.9L360.41 474.3Z" fill="#0000ee"/>
<path d="M367.33 485L378.53 485L372.93 474.4Z" fill="#0000ee"/>
<path d="M379.85 483.4L391.05 483.4L385.45 472.8Z" fill="#0000ee"/>
<path d="M392.38 483.5L403.58 483.5L397.98 472.9Z" fill="#0000ee"/>
<path d="M404.9 482.2L416.1 482.2L410.5 471.6Z" fill="#0000ee"/>
<path d="M417.42 480.4L428.62 480.4L423.02 469.8Z" fill="#0000ee"/>
<path d="M429.94 477.8L441.14 477.8L435.54 467.2Z" fill="#0000ee"/>
<path d="M442.47 477.1L453.67 477.1L448.07 466.5Z" fill="#0000ee"/>
<path d="M454.99 473.4L466.19 473.4L460.59 462.8Z" fill="#0000ee"/>
<path d="M467.51 470.6L478.71 470.6L473.11 460Z" fill="#0000ee"/>
<path d="M480.03 468.7L491.23 468.7L485.63 458.1Z" fill="#0000ee"/>
<path d="M492.56 465.9L503.76 465.9L498.16 455.3Z" fill="#0000ee"/>
<path d="M505.08 463.1L516.28 463.1L510.68 452.5Z" fill="#0000ee"/>
<path d="M517.6 459.1L528.8 459.1L523.2 448.5Z" fill="#0000ee"/>
<path d="M530.12 455.6L541.32 455.6L535.72 445Z" fill="#0000ee"/>
<path d="M542.64 452L553.84 452L548.24 441.4Z" fill="#0000ee"/>
<path d="M555.17 447.9L566.37 447.9L560.77 437.3Z" fill="#0000ee"/>
<path d="M567.69 442.3L578.89 442.3L573.29 431.7Z" fill="#0000ee"/>
<path d="M580.21 438.8L591.41 438.8L585.81 428.2Z" fill="#0000ee"/>
<path d="M592.73 435.9L603.93 435.9L598.33 425.3Z" fill="#0000ee"/>
<path d="M605.26 432.4L616.46 432.4L610.86 421.8Z" fill="#0000ee"/>
<path d="M617.78 428.2L628.98 428.2L623.38 417.6Z" fill="#0000ee"/>
<path d="M630.3 423.2L641.5 423.2L635.9 412.6Z" fill="#0000ee"/>
<path d="M642.82 421.4L654.02 421.4L648.42 410.8Z" fill="#0000ee"/>
<path d="M655.35 415.8L666.55 415.8L660.95 405.2Z" fill="#0000ee"/>
<path d="M667.87 413.5L679.07 413.5L673.47 402.9Z" fill="#0000ee"/>
<path d="M680.39 411.2L691.59 411.2L685.99 400.6Z" fill="#0000ee"/>
<path d="M692.91 410.3L704.11 410.3L698.51 399.7Z" fill="#0000ee"/>
<path d="M705.44 408.3L716.64 408.3L711.04 397.7Z" fill="#0000ee"/>
<path d="M717.96 407.5L729.16 407.5L723.56 396.9Z" fill="#0000ee"/>
<polyline points="109.96,803.8 122.48,798.7 135.01,800.1 147.53,801 160.05,799.6 172.57,799.1 185.1,798.7 197.62,799.1 210.14,795.3 222.66,794.7 235.19,795.9 247.71,799.1 260.23,798.4 272.75,796.7 285.27,795.9 297.8,798.8 310.32,796.1 322.84,796.8 335.36,798.9 347.89,797.3 360.41,794.7 372.93,798.9 385.45,800.9 397.98,801.3 410.5,802.1 423.02,799.1 435.54,800.3 448.07,800.2 460.59,797.4 473.11,799.1 485.63,802.4 498.16,799.8 510.68,799.9 523.2,802.3 535.72,802.4 548.24,801.3 560.77,805.8 573.29,800.2 585.81,804.4 598.33,803 610.86,804.1 623.38,803 635.9,803 648.42,804.6 660.95,806.9 673.47,806.3 685.99,802.8 698.51,803.8 711.04,802.1 723.56,808.9" fill="none" stroke="#9c0020" stroke-width="1.25"/>
<path d="M104.06 809.9L115.86 809.9L109.96 798.3Z" fill="none" stroke="#9c0020" stroke-width="1.35" stroke-linejoin="miter"/>
<path d="M116.58 804.8L128.38 804.8L122.48 793.2Z" fill="none" stroke="#9c0020" stroke-width="1.35" stroke-linejoin="miter"/>
<path d="M129.11 806.2L140.91 806.2L135.01 794.6Z" fill="none" stroke="#9c0020" stroke-width="1.35" stroke-linejoin="miter"/>
<path d="M141.63 807.1L153.43 807.1L147.53 795.5Z" fill="none" stroke="#9c0020" stroke-width="1.35" stroke-linejoin="miter"/>
<path d="M154.15 805.7L165.95 805.7L160.05 794.1Z" fill="none" stroke="#9c0020" stroke-width="1.35" stroke-linejoin="miter"/>
<path d="M166.67 805.2L178.47 805.2L172.57 793.6Z" fill="none" stroke="#9c0020" stroke-width="1.35" stroke-linejoin="miter"/>
<path d="M179.2 804.8L191 804.8L185.1 793.2Z" fill="none" stroke="#9c0020" stroke-width="1.35" stroke-linejoin="miter"/>
<path d="M191.72 805.2L203.52 805.2L197.62 793.6Z" fill="none" stroke="#9c0020" stroke-width="1.35" stroke-linejoin="miter"/>
<path d="M204.24 801.4L216.04 801.4L210.14 789.8Z" fill="none" stroke="#9c0020" stroke-width="1.35" stroke-linejoin="miter"/>
<path d="M216.76 800.8L228.56 800.8L222.66 789.2Z" fill="none" stroke="#9c0020" stroke-width="1.35" stroke-linejoin="miter"/>
<path d="M229.29 802L241.09 802L235.19 790.4Z" fill="none" stroke="#9c0020" stroke-width="1.35" stroke-linejoin="miter"/>
<path d="M241.81 805.2L253.61 805.2L247.71 793.6Z" fill="none" stroke="#9c0020" stroke-width="1.35" stroke-linejoin="miter"/>
<path d="M254.33 804.5L266.13 804.5L260.23 792.9Z" fill="none" stroke="#9c0020" stroke-width="1.35" stroke-linejoin="miter"/>
<path d="M266.85 802.8L278.65 802.8L272.75 791.2Z" fill="none" stroke="#9c0020" stroke-width="1.35" stroke-linejoin="miter"/>
<path d="M279.37 802L291.17 802L285.27 790.4Z" fill="none" stroke="#9c0020" stroke-width="1.35" stroke-linejoin="miter"/>
<path d="M291.9 804.9L303.7 804.9L297.8 793.3Z" fill="none" stroke="#9c0020" stroke-width="1.35" stroke-linejoin="miter"/>
<path d="M304.42 802.2L316.22 802.2L310.32 790.6Z" fill="none" stroke="#9c0020" stroke-width="1.35" stroke-linejoin="miter"/>
<path d="M316.94 802.9L328.74 802.9L322.84 791.3Z" fill="none" stroke="#9c0020" stroke-width="1.35" stroke-linejoin="miter"/>
<path d="M329.46 805L341.26 805L335.36 793.4Z" fill="none" stroke="#9c0020" stroke-width="1.35" stroke-linejoin="miter"/>
<path d="M341.99 803.4L353.79 803.4L347.89 791.8Z" fill="none" stroke="#9c0020" stroke-width="1.35" stroke-linejoin="miter"/>
<path d="M354.51 800.8L366.31 800.8L360.41 789.2Z" fill="none" stroke="#9c0020" stroke-width="1.35" stroke-linejoin="miter"/>
<path d="M367.03 805L378.83 805L372.93 793.4Z" fill="none" stroke="#9c0020" stroke-width="1.35" stroke-linejoin="miter"/>
<path d="M379.55 807L391.35 807L385.45 795.4Z" fill="none" stroke="#9c0020" stroke-width="1.35" stroke-linejoin="miter"/>
<path d="M392.08 807.4L403.88 807.4L397.98 795.8Z" fill="none" stroke="#9c0020" stroke-width="1.35" stroke-linejoin="miter"/>
<path d="M404.6 808.2L416.4 808.2L410.5 796.6Z" fill="none" stroke="#9c0020" stroke-width="1.35" stroke-linejoin="miter"/>
<path d="M417.12 805.2L428.92 805.2L423.02 793.6Z" fill="none" stroke="#9c0020" stroke-width="1.35" stroke-linejoin="miter"/>
<path d="M429.64 806.4L441.44 806.4L435.54 794.8Z" fill="none" stroke="#9c0020" stroke-width="1.35" stroke-linejoin="miter"/>
<path d="M442.17 806.3L453.97 806.3L448.07 794.7Z" fill="none" stroke="#9c0020" stroke-width="1.35" stroke-linejoin="miter"/>
<path d="M454.69 803.5L466.49 803.5L460.59 791.9Z" fill="none" stroke="#9c0020" stroke-width="1.35" stroke-linejoin="miter"/>
<path d="M467.21 805.2L479.01 805.2L473.11 793.6Z" fill="none" stroke="#9c0020" stroke-width="1.35" stroke-linejoin="miter"/>
<path d="M479.73 808.5L491.53 808.5L485.63 796.9Z" fill="none" stroke="#9c0020" stroke-width="1.35" stroke-linejoin="miter"/>
<path d="M492.26 805.9L504.06 805.9L498.16 794.3Z" fill="none" stroke="#9c0020" stroke-width="1.35" stroke-linejoin="miter"/>
<path d="M504.78 806L516.58 806L510.68 794.4Z" fill="none" stroke="#9c0020" stroke-width="1.35" stroke-linejoin="miter"/>
<path d="M517.3 808.4L529.1 808.4L523.2 796.8Z" fill="none" stroke="#9c0020" stroke-width="1.35" stroke-linejoin="miter"/>
<path d="M529.82 808.5L541.62 808.5L535.72 796.9Z" fill="none" stroke="#9c0020" stroke-width="1.35" stroke-linejoin="miter"/>
<path d="M542.34 807.4L554.14 807.4L548.24 795.8Z" fill="none" stroke="#9c0020" stroke-width="1.35" stroke-linejoin="miter"/>
<path d="M554.87 811.9L566.67 811.9L560.77 800.3Z" fill="none" stroke="#9c0020" stroke-width="1.35" stroke-linejoin="miter"/>
<path d="M567.39 806.3L579.19 806.3L573.29 794.7Z" fill="none" stroke="#9c0020" stroke-width="1.35" stroke-linejoin="miter"/>
<path d="M579.91 810.5L591.71 810.5L585.81 798.9Z" fill="none" stroke="#9c0020" stroke-width="1.35" stroke-linejoin="miter"/>
<path d="M592.43 809.1L604.23 809.1L598.33 797.5Z" fill="none" stroke="#9c0020" stroke-width="1.35" stroke-linejoin="miter"/>
<path d="M604.96 810.2L616.76 810.2L610.86 798.6Z" fill="none" stroke="#9c0020" stroke-width="1.35" stroke-linejoin="miter"/>
<path d="M617.48 809.1L629.28 809.1L623.38 797.5Z" fill="none" stroke="#9c0020" stroke-width="1.35" stroke-linejoin="miter"/>
<path d="M630 809.1L641.8 809.1L635.9 797.5Z" fill="none" stroke="#9c0020" stroke-width="1.35" stroke-linejoin="miter"/>
<path d="M642.52 810.7L654.32 810.7L648.42 799.1Z" fill="none" stroke="#9c0020" stroke-width="1.35" stroke-linejoin="miter"/>
<path d="M655.05 813L666.85 813L660.95 801.4Z" fill="none" stroke="#9c0020" stroke-width="1.35" stroke-linejoin="miter"/>
<path d="M667.57 812.4L679.37 812.4L673.47 800.8Z" fill="none" stroke="#9c0020" stroke-width="1.35" stroke-linejoin="miter"/>
<path d="M680.09 808.9L691.89 808.9L685.99 797.3Z" fill="none" stroke="#9c0020" stroke-width="1.35" stroke-linejoin="miter"/>
<path d="M692.61 809.9L704.41 809.9L698.51 798.3Z" fill="none" stroke="#9c0020" stroke-width="1.35" stroke-linejoin="miter"/>
<path d="M705.14 808.2L716.94 808.2L711.04 796.6Z" fill="none" stroke="#9c0020" stroke-width="1.35" stroke-linejoin="miter"/>
<path d="M717.66 815L729.46 815L723.56 803.4Z" fill="none" stroke="#9c0020" stroke-width="1.35" stroke-linejoin="miter"/>
<polyline points="109.96,806.8 122.48,801.9 135.01,804.1 147.53,806.1 160.05,806.2 172.57,809 185.1,809.7 197.62,813.8 210.14,810.7 222.66,811.9 235.19,817 247.71,823 260.23,826.5 272.75,825.8 285.27,827.9 297.8,833.2 310.32,832.8 322.84,834.6 335.36,839.1 347.89,837.4 360.41,837.4 372.93,844 385.45,845.1 397.98,847.2 410.5,847.1 423.02,843.6 435.54,846.1 448.07,845 460.59,842.2 473.11,845.4 485.63,850.3 498.16,843.6 510.68,842.2 523.2,844.4 535.72,844 548.24,840.5 560.77,843.7 573.29,836.3 585.81,839 598.33,835.6 610.86,834.6 623.38,831.4 635.9,829.7 648.42,828.1 660.95,830.9 673.47,826.8 685.99,822.3 698.51,823.6 711.04,820 723.56,825.6" fill="none" stroke="#ff8033" stroke-width="1.4" stroke-dasharray="7.3 3 2.6 3.3"/>
<rect x="105.86" y="802.7" width="8.2" height="8.2" fill="#ff8033"/>
<rect x="118.38" y="797.8" width="8.2" height="8.2" fill="#ff8033"/>
<rect x="130.91" y="800" width="8.2" height="8.2" fill="#ff8033"/>
<rect x="143.43" y="802" width="8.2" height="8.2" fill="#ff8033"/>
<rect x="155.95" y="802.1" width="8.2" height="8.2" fill="#ff8033"/>
<rect x="168.47" y="804.9" width="8.2" height="8.2" fill="#ff8033"/>
<rect x="181" y="805.6" width="8.2" height="8.2" fill="#ff8033"/>
<rect x="193.52" y="809.7" width="8.2" height="8.2" fill="#ff8033"/>
<rect x="206.04" y="806.6" width="8.2" height="8.2" fill="#ff8033"/>
<rect x="218.56" y="807.8" width="8.2" height="8.2" fill="#ff8033"/>
<rect x="231.09" y="812.9" width="8.2" height="8.2" fill="#ff8033"/>
<rect x="243.61" y="818.9" width="8.2" height="8.2" fill="#ff8033"/>
<rect x="256.13" y="822.4" width="8.2" height="8.2" fill="#ff8033"/>
<rect x="268.65" y="821.7" width="8.2" height="8.2" fill="#ff8033"/>
<rect x="281.17" y="823.8" width="8.2" height="8.2" fill="#ff8033"/>
<rect x="293.7" y="829.1" width="8.2" height="8.2" fill="#ff8033"/>
<rect x="306.22" y="828.7" width="8.2" height="8.2" fill="#ff8033"/>
<rect x="318.74" y="830.5" width="8.2" height="8.2" fill="#ff8033"/>
<rect x="331.26" y="835" width="8.2" height="8.2" fill="#ff8033"/>
<rect x="343.79" y="833.3" width="8.2" height="8.2" fill="#ff8033"/>
<rect x="356.31" y="833.3" width="8.2" height="8.2" fill="#ff8033"/>
<rect x="368.83" y="839.9" width="8.2" height="8.2" fill="#ff8033"/>
<rect x="381.35" y="841" width="8.2" height="8.2" fill="#ff8033"/>
<rect x="393.88" y="843.1" width="8.2" height="8.2" fill="#ff8033"/>
<rect x="406.4" y="843" width="8.2" height="8.2" fill="#ff8033"/>
<rect x="418.92" y="839.5" width="8.2" height="8.2" fill="#ff8033"/>
<rect x="431.44" y="842" width="8.2" height="8.2" fill="#ff8033"/>
<rect x="443.97" y="840.9" width="8.2" height="8.2" fill="#ff8033"/>
<rect x="456.49" y="838.1" width="8.2" height="8.2" fill="#ff8033"/>
<rect x="469.01" y="841.3" width="8.2" height="8.2" fill="#ff8033"/>
<rect x="481.53" y="846.2" width="8.2" height="8.2" fill="#ff8033"/>
<rect x="494.06" y="839.5" width="8.2" height="8.2" fill="#ff8033"/>
<rect x="506.58" y="838.1" width="8.2" height="8.2" fill="#ff8033"/>
<rect x="519.1" y="840.3" width="8.2" height="8.2" fill="#ff8033"/>
<rect x="531.62" y="839.9" width="8.2" height="8.2" fill="#ff8033"/>
<rect x="544.14" y="836.4" width="8.2" height="8.2" fill="#ff8033"/>
<rect x="556.67" y="839.6" width="8.2" height="8.2" fill="#ff8033"/>
<rect x="569.19" y="832.2" width="8.2" height="8.2" fill="#ff8033"/>
<rect x="581.71" y="834.9" width="8.2" height="8.2" fill="#ff8033"/>
<rect x="594.23" y="831.5" width="8.2" height="8.2" fill="#ff8033"/>
<rect x="606.76" y="830.5" width="8.2" height="8.2" fill="#ff8033"/>
<rect x="619.28" y="827.3" width="8.2" height="8.2" fill="#ff8033"/>
<rect x="631.8" y="825.6" width="8.2" height="8.2" fill="#ff8033"/>
<rect x="644.32" y="824" width="8.2" height="8.2" fill="#ff8033"/>
<rect x="656.85" y="826.8" width="8.2" height="8.2" fill="#ff8033"/>
<rect x="669.37" y="822.7" width="8.2" height="8.2" fill="#ff8033"/>
<rect x="681.89" y="818.2" width="8.2" height="8.2" fill="#ff8033"/>
<rect x="694.41" y="819.5" width="8.2" height="8.2" fill="#ff8033"/>
<rect x="706.94" y="815.9" width="8.2" height="8.2" fill="#ff8033"/>
<rect x="719.46" y="821.5" width="8.2" height="8.2" fill="#ff8033"/>
<polyline points="109.96,797.8 122.48,793.2 135.01,794 147.53,795.4 160.05,795.3 172.57,796.3 185.1,796.6 197.62,798 210.14,795.6 222.66,796.7 235.19,797.5 247.71,804.5 260.23,804.5 272.75,803.6 285.27,803.6 297.8,806.6 310.32,805.8 322.84,807.7 335.36,810.7 347.89,810.1 360.41,808 372.93,812.9 385.45,813.6 397.98,815.7 410.5,815.6 423.02,813.6 435.54,814.7 448.07,814.9 460.59,810.7 473.11,813.2 485.63,816.7 498.16,813.6 510.68,813 523.2,814.7 535.72,814.7 548.24,812.8 560.77,816.8 573.29,809.3 585.81,813.6 598.33,812.2 610.86,812.9 623.38,811.4 635.9,809.1 648.42,812.2 660.95,813.9 673.47,811.6 685.99,807.6 698.51,810.7 711.04,808.1 723.56,811.6" fill="none" stroke="#0000ee" stroke-width="1.4"/>
<path d="M104.36 803.1L115.56 803.1L109.96 792.5Z" fill="#0000ee"/>
<path d="M116.88 798.5L128.08 798.5L122.48 787.9Z" fill="#0000ee"/>
<path d="M129.41 799.3L140.61 799.3L135.01 788.7Z" fill="#0000ee"/>
<path d="M141.93 800.7L153.13 800.7L147.53 790.1Z" fill="#0000ee"/>
<path d="M154.45 800.6L165.65 800.6L160.05 790Z" fill="#0000ee"/>
<path d="M166.97 801.6L178.17 801.6L172.57 791Z" fill="#0000ee"/>
<path d="M179.5 801.9L190.7 801.9L185.1 791.3Z" fill="#0000ee"/>
<path d="M192.02 803.3L203.22 803.3L197.62 792.7Z" fill="#0000ee"/>
<path d="M204.54 800.9L215.74 800.9L210.14 790.3Z" fill="#0000ee"/>
<path d="M217.06 802L228.26 802L222.66 791.4Z" fill="#0000ee"/>
<path d="M229.59 802.8L240.79 802.8L235.19 792.2Z" fill="#0000ee"/>
<path d="M242.11 809.8L253.31 809.8L247.71 799.2Z" fill="#0000ee"/>
<path d="M254.63 809.8L265.83 809.8L260.23 799.2Z" fill="#0000ee"/>
<path d="M267.15 808.9L278.35 808.9L272.75 798.3Z" fill="#0000ee"/>
<path d="M279.67 808.9L290.87 808.9L285.27 798.3Z" fill="#0000ee"/>
<path d="M292.2 811.9L303.4 811.9L297.8 801.3Z" fill="#0000ee"/>
<path d="M304.72 811.1L315.92 811.1L310.32 800.5Z" fill="#0000ee"/>
<path d="M317.24 813L328.44 813L322.84 802.4Z" fill="#0000ee"/>
<path d="M329.76 816L340.96 816L335.36 805.4Z" fill="#0000ee"/>
<path d="M342.29 815.4L353.49 815.4L347.89 804.8Z" fill="#0000ee"/>
<path d="M354.81 813.3L366.01 813.3L360.41 802.7Z" fill="#0000ee"/>
<path d="M367.33 818.2L378.53 818.2L372.93 807.6Z" fill="#0000ee"/>
<path d="M379.85 818.9L391.05 818.9L385.45 808.3Z" fill="#0000ee"/>
<path d="M392.38 821L403.58 821L397.98 810.4Z" fill="#0000ee"/>
<path d="M404.9 820.9L416.1 820.9L410.5 810.3Z" fill="#0000ee"/>
<path d="M417.42 818.9L428.62 818.9L423.02 808.3Z" fill="#0000ee"/>
<path d="M429.94 820L441.14 820L435.54 809.4Z" fill="#0000ee"/>
<path d="M442.47 820.2L453.67 820.2L448.07 809.6Z" fill="#0000ee"/>
<path d="M454.99 816L466.19 816L460.59 805.4Z" fill="#0000ee"/>
<path d="M467.51 818.5L478.71 818.5L473.11 807.9Z" fill="#0000ee"/>
<path d="M480.03 822L491.23 822L485.63 811.4Z" fill="#0000ee"/>
<path d="M492.56 818.9L503.76 818.9L498.16 808.3Z" fill="#0000ee"/>
<path d="M505.08 818.3L516.28 818.3L510.68 807.7Z" fill="#0000ee"/>
<path d="M517.6 820L528.8 820L523.2 809.4Z" fill="#0000ee"/>
<path d="M530.12 820L541.32 820L535.72 809.4Z" fill="#0000ee"/>
<path d="M542.64 818.1L553.84 818.1L548.24 807.5Z" fill="#0000ee"/>
<path d="M555.17 822.1L566.37 822.1L560.77 811.5Z" fill="#0000ee"/>
<path d="M567.69 814.6L578.89 814.6L573.29 804Z" fill="#0000ee"/>
<path d="M580.21 818.9L591.41 818.9L585.81 808.3Z" fill="#0000ee"/>
<path d="M592.73 817.5L603.93 817.5L598.33 806.9Z" fill="#0000ee"/>
<path d="M605.26 818.2L616.46 818.2L610.86 807.6Z" fill="#0000ee"/>
<path d="M617.78 816.7L628.98 816.7L623.38 806.1Z" fill="#0000ee"/>
<path d="M630.3 814.4L641.5 814.4L635.9 803.8Z" fill="#0000ee"/>
<path d="M642.82 817.5L654.02 817.5L648.42 806.9Z" fill="#0000ee"/>
<path d="M655.35 819.2L666.55 819.2L660.95 808.6Z" fill="#0000ee"/>
<path d="M667.87 816.9L679.07 816.9L673.47 806.3Z" fill="#0000ee"/>
<path d="M680.39 812.9L691.59 812.9L685.99 802.3Z" fill="#0000ee"/>
<path d="M692.91 816L704.11 816L698.51 805.4Z" fill="#0000ee"/>
<path d="M705.44 813.4L716.64 813.4L711.04 802.8Z" fill="#0000ee"/>
<path d="M717.96 816.9L729.16 816.9L723.56 806.3Z" fill="#0000ee"/>
<line x1="91.2" y1="795.6" x2="742" y2="795.6" stroke="#000" stroke-width="1.5"/>
<rect x="91.2" y="35.2" width="650.8" height="920.3" fill="none" stroke="#000" stroke-width="2.0"/>
<line x1="91.2" y1="634.8" x2="742" y2="634.8" stroke="#000" stroke-width="2.2"/>
<line x1="90.2" y1="955.6" x2="743" y2="955.6" stroke="#000" stroke-width="2.4"/>
<text x="52.14" y="618.02" font-family="'Liberation Sans', sans-serif" font-size="22.6" text-anchor="start" fill="#000" textLength="30.53" lengthAdjust="spacingAndGlyphs">0.1</text>
<text x="52.14" y="557.24" font-family="'Liberation Sans', sans-serif" font-size="22.6" text-anchor="start" fill="#000" textLength="30.56" lengthAdjust="spacingAndGlyphs">0.2</text>
<text x="52.15" y="496.46" font-family="'Liberation Sans', sans-serif" font-size="22.6" text-anchor="start" fill="#000" textLength="30.42" lengthAdjust="spacingAndGlyphs">0.3</text>
<text x="52.15" y="435.68" font-family="'Liberation Sans', sans-serif" font-size="22.6" text-anchor="start" fill="#000" textLength="30.08" lengthAdjust="spacingAndGlyphs">0.4</text>
<text x="52.15" y="374.9" font-family="'Liberation Sans', sans-serif" font-size="22.6" text-anchor="start" fill="#000" textLength="30.37" lengthAdjust="spacingAndGlyphs">0.5</text>
<text x="52.15" y="314.12" font-family="'Liberation Sans', sans-serif" font-size="22.6" text-anchor="start" fill="#000" textLength="30.42" lengthAdjust="spacingAndGlyphs">0.6</text>
<text x="52.14" y="253.34" font-family="'Liberation Sans', sans-serif" font-size="22.6" text-anchor="start" fill="#000" textLength="30.56" lengthAdjust="spacingAndGlyphs">0.7</text>
<text x="52.15" y="192.56" font-family="'Liberation Sans', sans-serif" font-size="22.6" text-anchor="start" fill="#000" textLength="30.4" lengthAdjust="spacingAndGlyphs">0.8</text>
<text x="52.14" y="131.78" font-family="'Liberation Sans', sans-serif" font-size="22.6" text-anchor="start" fill="#000" textLength="30.5" lengthAdjust="spacingAndGlyphs">0.9</text>
<text x="73.6" y="71" font-family="'Liberation Sans', sans-serif" font-size="22.6" text-anchor="start" fill="#000">1</text>
<text x="63.3" y="683.21" font-family="'Liberation Sans', sans-serif" font-size="24.8" text-anchor="start" fill="#000" textLength="14.41" lengthAdjust="spacingAndGlyphs">2</text>
<text x="66.04" y="804.5" font-family="'Liberation Sans', sans-serif" font-size="24.8" text-anchor="start" fill="#000">1</text>
<text x="45.1" y="925.29" font-family="'Liberation Sans', sans-serif" font-size="24.8" text-anchor="start" fill="#000" textLength="31.86" lengthAdjust="spacingAndGlyphs">0.5</text>
<text x="747.43" y="683.21" font-family="'Liberation Sans', sans-serif" font-size="24.8" text-anchor="start" fill="#000" textLength="14.04" lengthAdjust="spacingAndGlyphs">2</text>
<text x="748.24" y="804.5" font-family="'Liberation Sans', sans-serif" font-size="24.8" text-anchor="start" fill="#000">1</text>
<text x="747.67" y="925.29" font-family="'Liberation Sans', sans-serif" font-size="24.8" text-anchor="start" fill="#000" textLength="32.92" lengthAdjust="spacingAndGlyphs">0.5</text>
<text x="96.88" y="978.2" font-family="'Liberation Sans', sans-serif" font-size="24.8" text-anchor="start" fill="#000" textLength="13.03" lengthAdjust="spacingAndGlyphs">0</text>
<text x="297.44" y="978.2" font-family="'Liberation Sans', sans-serif" font-size="24.8" text-anchor="start" fill="#000">1</text>
<text x="495.09" y="978.2" font-family="'Liberation Sans', sans-serif" font-size="24.8" text-anchor="start" fill="#000" textLength="14.53" lengthAdjust="spacingAndGlyphs">2</text>
<text x="694.87" y="978.2" font-family="'Liberation Sans', sans-serif" font-size="24.8" text-anchor="start" fill="#000" textLength="13.61" lengthAdjust="spacingAndGlyphs">3</text>
<text x="102.36" y="28.3" font-family="'Liberation Sans', sans-serif" font-size="23.8" text-anchor="start" fill="#000" textLength="129.66" lengthAdjust="spacingAndGlyphs">900 GeV pp</text>
<text x="550.74" y="28.4" font-family="'Liberation Sans', sans-serif" font-size="23.8" text-anchor="start" fill="#000" textLength="183.43" lengthAdjust="spacingAndGlyphs">Underlying Event</text>
<text x="154.71" y="84.7" font-family="'Liberation Sans', sans-serif" font-size="24.2" text-anchor="start" fill="#000" textLength="18.36" lengthAdjust="spacingAndGlyphs">N</text>
<text x="171.06" y="91.5" font-family="'Liberation Sans', sans-serif" font-size="15.8" text-anchor="start" fill="#000" textLength="24.42" lengthAdjust="spacingAndGlyphs">chg</text>
<text x="201.5" y="84.7" font-family="'Liberation Sans', sans-serif" font-size="24.2" text-anchor="start" fill="#000" textLength="75.35" lengthAdjust="spacingAndGlyphs">density</text>
<text x="285.52" y="84.7" font-family="'Liberation Sans', sans-serif" font-size="24.2" text-anchor="start" fill="#000" textLength="30.03" lengthAdjust="spacingAndGlyphs">vs.</text>
<text x="315.59" y="84.7" font-family="'Liberation Serif', sans-serif" font-size="24.2" text-anchor="start" fill="#000" textLength="13.71" lengthAdjust="spacingAndGlyphs">&#916;</text>
<text x="328.67" y="84.7" font-family="'Liberation Serif', sans-serif" font-size="24.2" text-anchor="start" fill="#000" textLength="14.6" lengthAdjust="spacingAndGlyphs">&#981;</text>
<text x="341.63" y="84.7" font-family="'Liberation Sans', sans-serif" font-size="24.2" text-anchor="start" fill="#000">,</text>
<text x="355.97" y="84.7" font-family="'Liberation Sans', sans-serif" font-size="24.2" text-anchor="start" fill="#000" textLength="14.1" lengthAdjust="spacingAndGlyphs">p</text>
<text x="370.08" y="73.5" font-family="'Liberation Sans', sans-serif" font-size="14.8" text-anchor="start" fill="#000" textLength="24.33" lengthAdjust="spacingAndGlyphs">trk1</text>
<text x="370.48" y="97.6" font-family="'Liberation Sans', sans-serif" font-size="14.8" text-anchor="start" fill="#000" textLength="8.75" lengthAdjust="spacingAndGlyphs">T</text>
<text x="400.46" y="84.7" font-family="'Liberation Sans', sans-serif" font-size="24.2" text-anchor="start" fill="#000" textLength="15.87" lengthAdjust="spacingAndGlyphs">&gt;</text>
<text x="423.09" y="84.7" font-family="'Liberation Sans', sans-serif" font-size="24.2" text-anchor="start" fill="#000" textLength="31.26" lengthAdjust="spacingAndGlyphs">1.5</text>
<text x="461.77" y="84.7" font-family="'Liberation Sans', sans-serif" font-size="24.2" text-anchor="start" fill="#000" textLength="55.62" lengthAdjust="spacingAndGlyphs">GeV,</text>
<path d="M520.9 77.6L522.4 76.6L524.6 84.6" fill="none" stroke="#000" stroke-width="2" stroke-linejoin="miter"/>
<path d="M524.5 85.2L525.9 64.8L543.0 64.8" fill="none" stroke="#000" stroke-width="1.2" stroke-linejoin="miter"/>
<text x="530.69" y="84.7" font-family="'Liberation Sans', sans-serif" font-size="24.2" text-anchor="start" fill="#000" textLength="12.84" lengthAdjust="spacingAndGlyphs">s</text>
<text x="548.31" y="84.7" font-family="'Liberation Sans', sans-serif" font-size="24.2" text-anchor="start" fill="#000" textLength="15.39" lengthAdjust="spacingAndGlyphs">=</text>
<text x="570.91" y="84.7" font-family="'Liberation Sans', sans-serif" font-size="24.2" text-anchor="start" fill="#000" textLength="47.21" lengthAdjust="spacingAndGlyphs">{900</text>
<text x="624.48" y="84.7" font-family="'Liberation Sans', sans-serif" font-size="24.2" text-anchor="start" fill="#000" textLength="56.76" lengthAdjust="spacingAndGlyphs">GeV}</text>
<rect x="147.95" y="119.05" width="10.7" height="10.7" fill="#000"/>
<line x1="129" y1="150.4" x2="177" y2="150.4" stroke="#9c0020" stroke-width="1.25"/>
<path d="M147.15 156.25L158.95 156.25L153.05 144.65Z" fill="none" stroke="#9c0020" stroke-width="1.35" stroke-linejoin="miter"/>
<line x1="129" y1="176.3" x2="177" y2="176.3" stroke="#ff8033" stroke-width="1.4" stroke-dasharray="7.4 2.6 2.4 4"/>
<rect x="149" y="172.2" width="8.2" height="8.2" fill="#ff8033"/>
<line x1="129" y1="202" x2="177" y2="202" stroke="#0000ee" stroke-width="1.4"/>
<path d="M147.9 207.9L158.5 207.9L153.2 197.3Z" fill="#0000ee"/>
<text x="187.66" y="129.9" font-family="'Liberation Sans', sans-serif" font-size="18" text-anchor="start" fill="#000" textLength="60.21" lengthAdjust="spacingAndGlyphs">ATLAS</text>
<text x="186.94" y="155.8" font-family="'Liberation Sans', sans-serif" font-size="18" text-anchor="start" fill="#000" textLength="142.5" lengthAdjust="spacingAndGlyphs">Pythia 6.428 370</text>
<text x="186.94" y="182.1" font-family="'Liberation Sans', sans-serif" font-size="18" text-anchor="start" fill="#000" textLength="167.7" lengthAdjust="spacingAndGlyphs">Pythia 6.428 default</text>
<text x="186.94" y="208.2" font-family="'Liberation Sans', sans-serif" font-size="18" text-anchor="start" fill="#000" textLength="167.7" lengthAdjust="spacingAndGlyphs">Pythia 8.315 default</text>
<text x="330.82" y="603.8" font-family="'Liberation Sans', sans-serif" font-size="16.2" text-anchor="start" fill="#a2a2a2" textLength="171.07" lengthAdjust="spacingAndGlyphs">(ATLAS_2010_I879407)</text>
<line x1="443.4" y1="988.2" x2="443.4" y2="1012.3" stroke="#000" stroke-width="1.5"/>
<line x1="460.2" y1="988.2" x2="460.2" y2="1012.3" stroke="#000" stroke-width="1.5"/>
<text x="444.73" y="1006.3" font-family="'Liberation Serif', sans-serif" font-size="23.6" text-anchor="start" fill="#000" textLength="13.56" lengthAdjust="spacingAndGlyphs">&#981;</text>
<text x="471.12" y="1006.3" font-family="'Liberation Sans', sans-serif" font-size="23.6" text-anchor="start" fill="#000" textLength="63.49" lengthAdjust="spacingAndGlyphs">(w.r.t.</text>
<text x="540.89" y="1006.3" font-family="'Liberation Sans', sans-serif" font-size="23.6" text-anchor="start" fill="#000" textLength="81.85" lengthAdjust="spacingAndGlyphs">leading</text>
<text x="629.63" y="1006.3" font-family="'Liberation Sans', sans-serif" font-size="23.6" text-anchor="start" fill="#000" textLength="61.6" lengthAdjust="spacingAndGlyphs">track)</text>
<text x="699.5" y="1006.3" font-family="'Liberation Sans', sans-serif" font-size="23.6" text-anchor="start" fill="#000" textLength="50.39" lengthAdjust="spacingAndGlyphs">[rad]</text>
<g transform="translate(760.2,237.7) rotate(-90)">
<text x="-1.54" y="0" font-family="'Liberation Sans', sans-serif" font-size="19" text-anchor="start" fill="#808080" textLength="94.82" lengthAdjust="spacingAndGlyphs">Rivet 4.1.0,</text>
<text x="98.35" y="0" font-family="'Liberation Serif', sans-serif" font-size="19" text-anchor="start" fill="#808080" textLength="11.42" lengthAdjust="spacingAndGlyphs">&#8805;</text>
<text x="113.85" y="0" font-family="'Liberation Sans', sans-serif" font-size="19" text-anchor="start" fill="#808080" textLength="87.23" lengthAdjust="spacingAndGlyphs">2M events</text>
</g>
<g transform="translate(761.3,628.4) rotate(-90)">
<text x="-1.26" y="0" font-family="'Liberation Sans', sans-serif" font-size="19" text-anchor="start" fill="#808080" textLength="287.11" lengthAdjust="spacingAndGlyphs">mcplots.cern.ch [arXiv:1306.3436]</text>
</g>
<g transform="translate(36.6,854.0) rotate(-90)">
<text x="-1.46" y="0" font-family="'Liberation Sans', sans-serif" font-size="19.4" text-anchor="start" fill="#000" textLength="123.08" lengthAdjust="spacingAndGlyphs">Ratio to ATLAS</text>
</g>
<g transform="translate(32.6,204.8) rotate(-90)">
<text x="-0.1" y="0" font-family="'Liberation Sans', sans-serif" font-size="25.5" text-anchor="start" fill="#000" textLength="12.51" lengthAdjust="spacingAndGlyphs">#</text>
<path d="M21.1 -18.8L14.9 -8.1L21.1 3.2" fill="none" stroke="#000" stroke-width="1.3"/>
<text x="21.77" y="0" font-family="'Liberation Sans', sans-serif" font-size="25.5" text-anchor="start" fill="#000" textLength="13.6" lengthAdjust="spacingAndGlyphs">d</text>
<text x="34.83" y="-12.5" font-family="'Liberation Sans', sans-serif" font-size="16.2" text-anchor="start" fill="#000" textLength="8.55" lengthAdjust="spacingAndGlyphs">2</text>
<text x="49.27" y="0" font-family="'Liberation Sans', sans-serif" font-size="25.5" text-anchor="start" fill="#000" textLength="18.75" lengthAdjust="spacingAndGlyphs">N</text>
<text x="65.63" y="7.1" font-family="'Liberation Sans', sans-serif" font-size="16.8" text-anchor="start" fill="#000" textLength="25.38" lengthAdjust="spacingAndGlyphs">chg</text>
<text x="90.6" y="0" font-family="'Liberation Sans', sans-serif" font-size="25.5" text-anchor="start" fill="#000" textLength="6.2" lengthAdjust="spacingAndGlyphs">/</text>
<text x="96.67" y="0" font-family="'Liberation Sans', sans-serif" font-size="25.5" text-anchor="start" fill="#000" textLength="13.6" lengthAdjust="spacingAndGlyphs">d</text>
<text x="109.58" y="0" font-family="'Liberation Serif', sans-serif" font-size="27.5" text-anchor="start" fill="#000" textLength="14.13" lengthAdjust="spacingAndGlyphs">&#951;</text>
<text x="122.93" y="0" font-family="'Liberation Sans', sans-serif" font-size="25.5" text-anchor="start" fill="#000" textLength="14.22" lengthAdjust="spacingAndGlyphs">d</text>
<text x="136.03" y="0" font-family="'Liberation Serif', sans-serif" font-size="25.5" text-anchor="start" fill="#000" textLength="12.07" lengthAdjust="spacingAndGlyphs">&#981;</text>
<text x="149.4" y="0" font-family="'Liberation Sans', sans-serif" font-size="25.5" text-anchor="start" fill="#000" textLength="12.1" lengthAdjust="spacingAndGlyphs">#</text>
<path d="M162.7 -18.8L168.8 -8.1L162.7 3.2" fill="none" stroke="#000" stroke-width="1.3"/>
</g>
</svg>
</body></html>
